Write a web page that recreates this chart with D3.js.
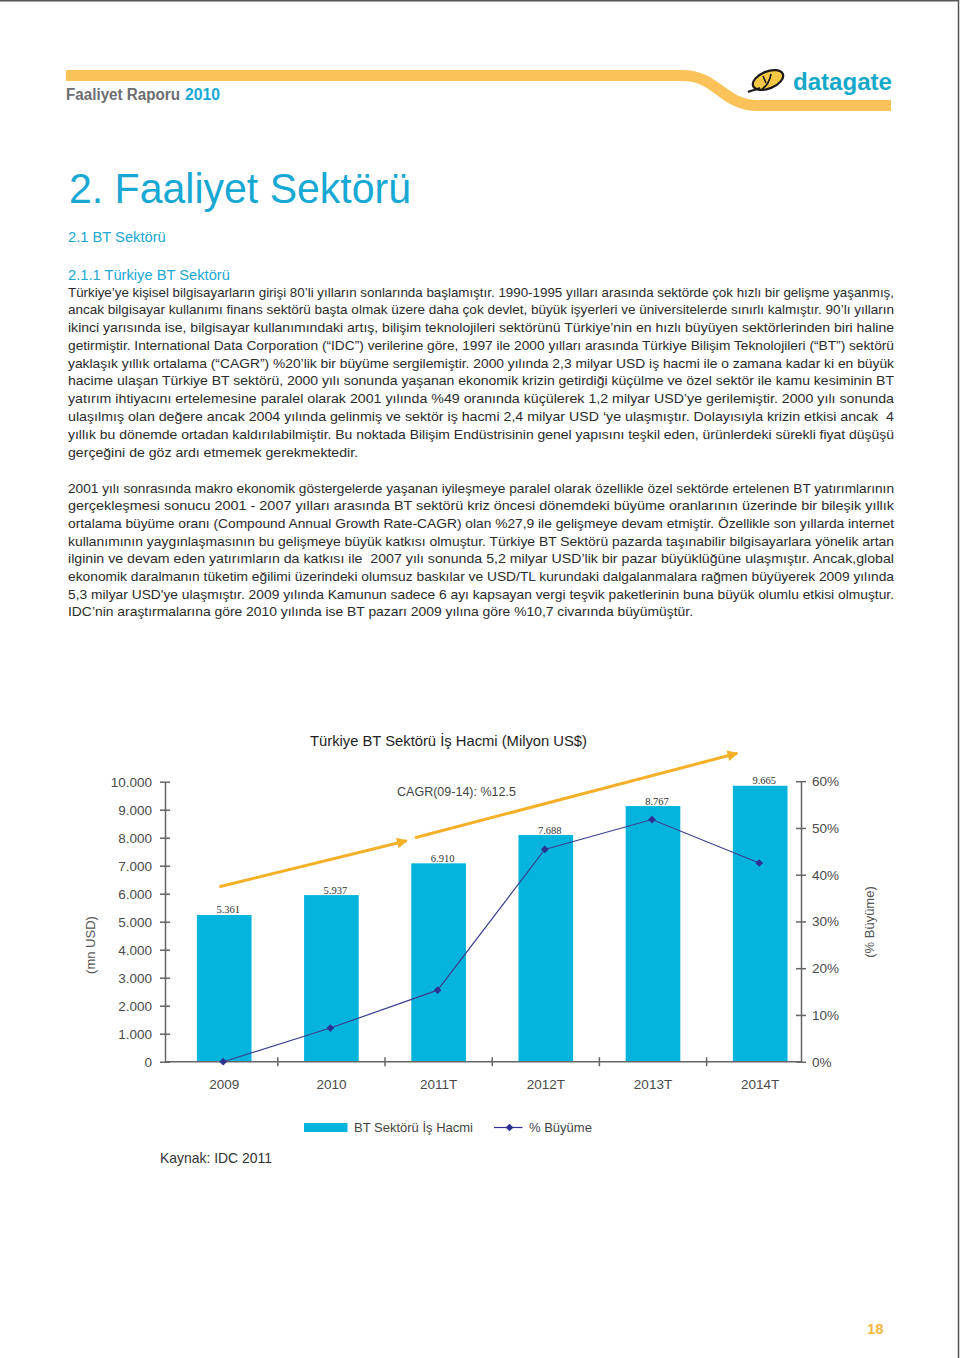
<!DOCTYPE html>
<html>
<head>
<meta charset="utf-8">
<script src="https://cdn.jsdelivr.net/npm/d3@7"></script>
<style>
  html, body { margin: 0; padding: 0; background: #fff; }
  svg { display: block; }
</style>
</head>
<body>
<svg id="page" width="960" height="1358"></svg>
<script>
// ---------------- data ----------------
const categories = ["2009", "2010", "2011T", "2012T", "2013T", "2014T"];
const volumeLabels = [5361, 5937, 6910, 7688, 8767, 9665];     // printed bar values (mn USD)
const barHeights = [5240, 5950, 7085, 8095, 9130, 9855];        // bar heights as drawn (mn USD axis)
const growth = [0, 7.2, 15.3, 45.4, 51.8, 42.5];                // % Büyüme as drawn
const leftTicks = [0, 1000, 2000, 3000, 4000, 5000, 6000, 7000, 8000, 9000, 10000];
const rightTicks = [0, 10, 20, 30, 40, 50, 60];

const paragraph1 = [
  "Türkiye’ye kişisel bilgisayarların girişi 80’li yılların sonlarında başlamıştır. 1990-1995 yılları arasında sektörde çok hızlı bir gelişme yaşanmış,",
  "ancak bilgisayar kullanımı finans sektörü başta olmak üzere daha çok devlet, büyük işyerleri ve üniversitelerde sınırlı kalmıştır. 90’lı yılların",
  "ikinci yarısında ise, bilgisayar kullanımındaki artış, bilişim teknolojileri sektörünü Türkiye’nin en hızlı büyüyen sektörlerinden biri haline",
  "getirmiştir. International Data Corporation (“IDC”) verilerine göre, 1997 ile 2000 yılları arasında Türkiye Bilişim Teknolojileri (“BT”) sektörü",
  "yaklaşık yıllık ortalama (“CAGR”) %20’lik bir büyüme sergilemiştir. 2000 yılında 2,3 milyar USD iş hacmi ile o zamana kadar ki en büyük",
  "hacime ulaşan Türkiye BT sektörü, 2000 yılı sonunda yaşanan ekonomik krizin getirdiği küçülme ve özel sektör ile kamu kesiminin BT",
  "yatırım ihtiyacını ertelemesine paralel olarak 2001 yılında %49 oranında küçülerek 1,2 milyar USD’ye gerilemiştir. 2000 yılı sonunda",
  "ulaşılmış olan değere ancak 2004 yılında gelinmiş ve sektör iş hacmi 2,4 milyar USD ‘ye ulaşmıştır. Dolayısıyla krizin etkisi ancak  4",
  "yıllık bu dönemde ortadan kaldırılabilmiştir. Bu noktada Bilişim Endüstrisinin genel yapısını teşkil eden, ürünlerdeki sürekli fiyat düşüşü",
  "gerçeğini de göz ardı etmemek gerekmektedir."
];
const paragraph2 = [
  "2001 yılı sonrasında makro ekonomik göstergelerde yaşanan iyileşmeye paralel olarak özellikle özel sektörde ertelenen BT yatırımlarının",
  "gerçekleşmesi sonucu 2001 - 2007 yılları arasında BT sektörü kriz öncesi dönemdeki büyüme oranlarının üzerinde bir bileşik yıllık",
  "ortalama büyüme oranı (Compound Annual Growth Rate-CAGR) olan %27,9 ile gelişmeye devam etmiştir. Özellikle son yıllarda internet",
  "kullanımının yaygınlaşmasının bu gelişmeye büyük katkısı olmuştur. Türkiye BT Sektörü pazarda taşınabilir bilgisayarlara yönelik artan",
  "ilginin ve devam eden yatırımların da katkısı ile  2007 yılı sonunda 5,2 milyar USD’lik bir pazar büyüklüğüne ulaşmıştır. Ancak,global",
  "ekonomik daralmanın tüketim eğilimi üzerindeki olumsuz baskılar ve USD/TL kurundaki dalgalanmalara rağmen büyüyerek 2009 yılında",
  "5,3 milyar USD'ye ulaşmıştır. 2009 yılında Kamunun sadece 6 ayı kapsayan vergi teşvik paketlerinin buna büyük olumlu etkisi olmuştur.",
  "IDC’nin araştırmalarına göre 2010 yılında ise BT pazarı 2009 yılına göre %10,7 civarında büyümüştür."
];

// ---------------- page ----------------
const svg = d3.select("#page");
const SANS = "'Liberation Sans', Arial, Helvetica, sans-serif";
const CYAN = "#17a8d4";
const ORANGE = "#fbc25a";
const BAR = "#05b4dc";
const NAVY = "#2e3192";

// page edge
svg.append("line").attr("x1", 0).attr("x2", 958).attr("y1", 0.75).attr("y2", 0.75)
  .attr("stroke", "#555").attr("stroke-width", 1.5);
svg.append("line").attr("x1", 958.5).attr("x2", 958.5).attr("y1", 0).attr("y2", 1358)
  .attr("stroke", "#555").attr("stroke-width", 1.5);

// header band
svg.append("path")
  .attr("d", "M66,75.5 H682 C718,75.5 722,105.5 758,105.5 H891")
  .attr("fill", "none").attr("stroke", ORANGE).attr("stroke-width", 11);

const hdr = svg.append("text").attr("x", 66).attr("y", 100)
  .attr("font-family", SANS).attr("font-weight", "bold").attr("font-size", 16);
hdr.append("tspan").attr("fill", "#6d6e71").attr("textLength", 114)
  .attr("lengthAdjust", "spacingAndGlyphs").text("Faaliyet Raporu");
hdr.append("tspan").attr("x", 185).attr("fill", CYAN).attr("textLength", 35)
  .attr("lengthAdjust", "spacingAndGlyphs").text("2010");

// logo
const logo = svg.append("g");
logo.append("ellipse").attr("cx", 768).attr("cy", 80).attr("rx", 16).attr("ry", 8.5)
  .attr("transform", "rotate(-22 768 80)")
  .attr("fill", "#f7c845").attr("stroke", "#1a1a1a").attr("stroke-width", 2.2);
logo.append("path").attr("d", "M748,92 C752,90 756,90 760,88")
  .attr("fill", "none").attr("stroke", "#1a1a1a").attr("stroke-width", 2.2);
logo.append("path").attr("d", "M763,76 L766,83 M771,74 C770,80 767,86 762,89")
  .attr("fill", "none").attr("stroke", "#1a1a1a").attr("stroke-width", 1.6);
svg.append("text").attr("x", 793).attr("y", 90).attr("font-family", SANS)
  .attr("font-weight", "bold").attr("font-size", 24).attr("fill", "#15a9c9")
  .attr("textLength", 99).attr("lengthAdjust", "spacingAndGlyphs").text("datagate");

// headings
svg.append("text").attr("x", 69).attr("y", 203).attr("font-family", SANS)
  .attr("font-size", 43).attr("fill", CYAN).attr("textLength", 342)
  .attr("lengthAdjust", "spacingAndGlyphs").text("2. Faaliyet Sektörü");
svg.append("text").attr("x", 68).attr("y", 241.5).attr("font-family", SANS)
  .attr("font-size", 14.7).attr("fill", CYAN).text("2.1 BT Sektörü");
svg.append("text").attr("x", 68).attr("y", 280).attr("font-family", SANS)
  .attr("font-size", 14.7).attr("fill", CYAN).text("2.1.1 Türkiye BT Sektörü");

function paragraph(lines, y0, step, lastWidth) {
  lines.forEach((t, i) => {
    const last = i === lines.length - 1;
    svg.append("text").attr("x", 68).attr("y", y0 + i * step)
      .attr("font-family", SANS).attr("font-size", 13.4).attr("fill", "#2b2b2b")
      .attr("textLength", last ? lastWidth : 826)
      .attr("lengthAdjust", "spacingAndGlyphs")
      .attr("xml:space", "preserve")
      .text(t);
  });
}
paragraph(paragraph1, 296.5, 17.78, 290);
paragraph(paragraph2, 492.5, 17.71, 625);

// ---------------- chart ----------------
const x = d3.scaleBand().domain(categories).range([170.6, 813.8])
  .paddingInner(0.49).paddingOuter(0.245);
const y = d3.scaleLinear().domain([0, 10000]).range([1061.7, 781.7]);
const yR = d3.scaleLinear().domain([0, 60]).range([1061.7, 781.2]);
const AXL = 165, AXR = 801;
const fmt = d3.formatLocale({ decimal: ",", thousands: ".", grouping: [3], currency: ["", ""] }).format(",");

// title
svg.append("text").attr("x", 310).attr("y", 745.5).attr("font-family", SANS)
  .attr("font-size", 14.5).attr("fill", "#1e1e1e").attr("textLength", 277)
  .attr("lengthAdjust", "spacingAndGlyphs").text("Türkiye BT Sektörü İş Hacmi (Milyon US$)");

// bars
svg.append("g").selectAll("rect").data(categories).join("rect")
  .attr("x", d => x(d)).attr("width", x.bandwidth())
  .attr("y", (d, i) => y(barHeights[i]))
  .attr("height", (d, i) => y(0) - y(barHeights[i]))
  .attr("fill", BAR);

// bar labels
svg.append("g").selectAll("text").data(categories).join("text")
  .attr("x", d => x(d) + x.bandwidth() / 2 + 4)
  .attr("y", (d, i) => y(barHeights[i]) - 1.5)
  .attr("text-anchor", "middle").attr("font-family", "'Liberation Serif', 'Times New Roman', serif")
  .attr("font-size", 10.5).attr("fill", "#333")
  .text((d, i) => fmt(volumeLabels[i]));

// CAGR arrows
const defs = svg.append("defs");
defs.append("marker").attr("id", "arrowHead").attr("viewBox", "0 0 10 10")
  .attr("refX", 9).attr("refY", 5).attr("markerWidth", 4.4).attr("markerHeight", 3.6)
  .attr("markerUnits", "strokeWidth").attr("orient", "auto")
  .append("path").attr("d", "M0,0 L10,5 L0,10 Z").attr("fill", "#f5b027");
svg.append("line").attr("x1", 219.3).attr("y1", 886.7).attr("x2", 406.7).attr("y2", 840.7)
  .attr("stroke", "#f5b027").attr("stroke-width", 3).attr("marker-end", "url(#arrowHead)");
svg.append("line").attr("x1", 415).attr("y1", 837.7).attr("x2", 737.3).attr("y2", 753.3)
  .attr("stroke", "#f5b027").attr("stroke-width", 3).attr("marker-end", "url(#arrowHead)");
svg.append("text").attr("x", 397).attr("y", 795.5).attr("font-family", SANS)
  .attr("font-size", 13).attr("fill", "#444").attr("textLength", 119)
  .attr("lengthAdjust", "spacingAndGlyphs").text("CAGR(09-14): %12.5");

// left axis
const gL = svg.append("g").attr("transform", `translate(${AXL},0)`)
  .call(d3.axisLeft(y).tickValues(leftTicks).tickFormat(fmt)
    .tickSize(5).tickSizeOuter(0).tickPadding(8));
gL.selectAll(".tick line").attr("x1", -5).attr("x2", 5);
gL.selectAll("text").attr("font-family", SANS).attr("font-size", 13.5).attr("fill", "#4a4a4a");
gL.selectAll("line, path").attr("stroke", "#666").attr("stroke-width", 1.5);

// right axis
const gR = svg.append("g").attr("transform", `translate(${AXR},0)`)
  .call(d3.axisRight(yR).tickValues(rightTicks).tickFormat(d => d + "%")
    .tickSize(5).tickSizeOuter(0).tickPadding(6));
gR.selectAll(".tick line").attr("x1", -5).attr("x2", 5);
gR.selectAll("text").attr("font-family", SANS).attr("font-size", 13.5).attr("fill", "#4a4a4a");
gR.selectAll("line, path").attr("stroke", "#666").attr("stroke-width", 1.5);

// bottom axis
svg.append("line").attr("x1", AXL).attr("x2", AXR).attr("y1", y(0)).attr("y2", y(0))
  .attr("stroke", "#666").attr("stroke-width", 1.5);
const bounds = categories.slice(1).map(c => x(c) - x.step() * x.paddingInner() / 2);
svg.append("g").selectAll("line").data(bounds).join("line")
  .attr("x1", d => d).attr("x2", d => d).attr("y1", y(0) - 4.5).attr("y2", y(0) + 4.5)
  .attr("stroke", "#666").attr("stroke-width", 1.5);
const gB = svg.append("g").attr("transform", `translate(0,${y(0)})`)
  .call(d3.axisBottom(x).tickSize(0).tickPadding(17.7));
gB.select(".domain").remove();
gB.selectAll("text").attr("font-family", SANS).attr("font-size", 13.5).attr("fill", "#4a4a4a");

// axis titles
svg.append("text").attr("transform", "translate(95,945) rotate(-90)")
  .attr("text-anchor", "middle").attr("font-family", SANS).attr("font-size", 13)
  .attr("fill", "#555").text("(mn USD)");
svg.append("text").attr("transform", "translate(874,922) rotate(-90)")
  .attr("text-anchor", "middle").attr("font-family", SANS).attr("font-size", 13)
  .attr("fill", "#555").text("(% Büyüme)");

// growth line
const cx = d => x(d) + x.bandwidth() / 2 - 1;
const line = d3.line().x((d, i) => cx(categories[i])).y(d => yR(d));
svg.append("path").datum(growth).attr("d", line)
  .attr("fill", "none").attr("stroke", "#3a3f8f").attr("stroke-width", 1.2);
const diamond = d3.symbol().type(d3.symbolDiamond2).size(38);
svg.append("g").selectAll("path").data(growth).join("path")
  .attr("d", diamond)
  .attr("transform", (d, i) => `translate(${cx(categories[i])},${yR(d)})`)
  .attr("fill", NAVY);

// legend
svg.append("rect").attr("x", 304).attr("y", 1123).attr("width", 43.5).attr("height", 9)
  .attr("fill", BAR);
svg.append("text").attr("x", 354).attr("y", 1132).attr("font-family", SANS)
  .attr("font-size", 13).attr("fill", "#444").text("BT Sektörü İş Hacmi");
svg.append("line").attr("x1", 494).attr("x2", 522.5).attr("y1", 1127.5).attr("y2", 1127.5)
  .attr("stroke", NAVY).attr("stroke-width", 1.2);
svg.append("path").attr("d", diamond).attr("transform", "translate(509.5,1127.5)").attr("fill", NAVY);
svg.append("text").attr("x", 529).attr("y", 1132).attr("font-family", SANS)
  .attr("font-size", 13).attr("fill", "#444").text("% Büyüme");

// source
svg.append("text").attr("x", 160).attr("y", 1162.5).attr("font-family", SANS)
  .attr("font-size", 14.5).attr("fill", "#333").attr("textLength", 112)
  .attr("lengthAdjust", "spacingAndGlyphs").text("Kaynak: IDC 2011");

// page number
svg.append("text").attr("x", 867).attr("y", 1334).attr("font-family", SANS)
  .attr("font-weight", "bold").attr("font-size", 15).attr("fill", "#f7b740").text("18");
</script>
</body>
</html>
